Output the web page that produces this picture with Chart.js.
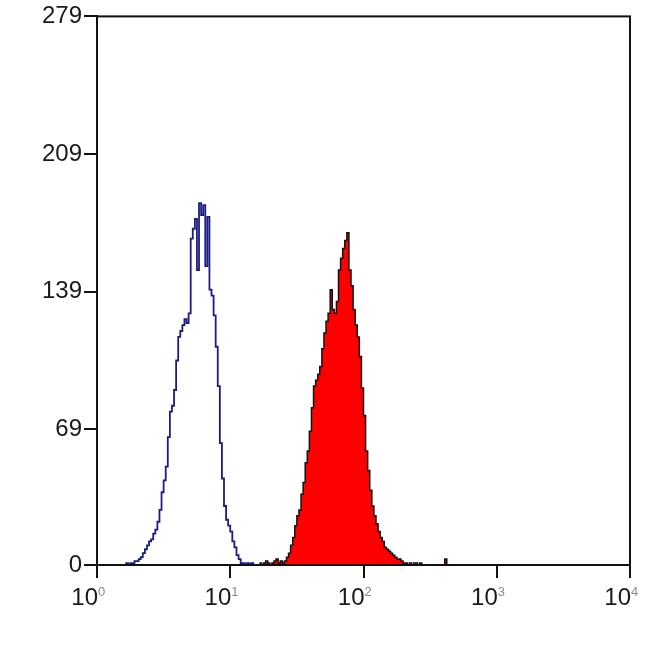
<!DOCTYPE html>
<html>
<head>
<meta charset="utf-8">
<script src="https://cdn.jsdelivr.net/npm/chart.js@4.4.1/dist/chart.umd.min.js"></script>
<style>
  html, body { margin: 0; padding: 0; background: #ffffff; }
  canvas { display: block; }
</style>
</head>
<body>
<canvas id="c" width="650" height="650"></canvas>
<script>
// ---- data (flow cytometry histogram, 64 channels per decade on a 4-decade log scale) ----
const channelsPerDecade = 64;

// isotype control (blue outline)
const blueStartChannel = 13;
const blueCounts = [
  0, 1, 0, 1, 1, 2, 2, 3, 4, 6,
  8, 10, 12, 13, 16, 18, 22, 28, 37, 43,
  50, 65, 78, 81, 89, 104, 116, 119, 122, 125,
  123, 128, 166, 171, 176, 150, 184, 178, 183, 152,
  177, 140, 137, 127, 111, 91, 62, 44, 30, 23,
  20, 17, 12, 9, 5, 3, 1, 1, 0, 1,
  0, 1, 0
];

// stained sample (red filled)
const redStartChannel = 78;
const redCounts = [
  1, 0, 1, 2, 1, 0, 1, 2, 3, 1,
  2, 1, 2, 4, 6, 10, 14, 20, 25, 28,
  36, 42, 52, 58, 68, 80, 91, 94, 97, 101,
  110, 118, 124, 128, 140, 130, 128, 134, 150, 156,
  161, 165, 169, 150, 142, 130, 122, 116, 106, 90,
  76, 58, 48, 38, 30, 25, 21, 17, 14, 12,
  9, 8, 7, 6, 5, 4, 3, 3, 2, 1,
  1, 0, 1, 0, 1, 1, 0, 1, 0, 0,
  0, 0, 0, 0, 0, 0, 0, 0, 0, 3,
  0
];

// axes
const xTickValues = [1, 10, 100, 1000, 10000];
const xTickBase = '10';
const xTickExponents = ['0', '1', '2', '3', '4'];
const yTickValues = [0, 69, 139, 209, 279];
const yMax = 279;

// ---- build step points from channels ----
function toPoints(start, counts) {
  const pts = counts.map((c, i) => ({ x: Math.pow(10, (start + i) / channelsPerDecade), y: c }));
  pts.push({ x: Math.pow(10, (start + counts.length) / channelsPerDecade), y: 0 });
  return pts;
}

const FONT = "'Liberation Sans', Arial, sans-serif";

const frameAndLabels = {
  id: 'frameAndLabels',
  afterDraw(chart) {
    const { ctx, chartArea } = chart;
    const xs = chart.scales.x;
    ctx.save();
    // frame
    ctx.strokeStyle = '#111';
    ctx.lineWidth = 2;
    ctx.strokeRect(chartArea.left, chartArea.top, chartArea.right - chartArea.left, chartArea.bottom - chartArea.top);
    // x tick labels with superscript exponents
    xTickValues.forEach((v, i) => {
      const px = xs.getPixelForValue(v);
      ctx.font = '24px ' + FONT;
      ctx.fillStyle = '#1a1a1a';
      ctx.textAlign = 'right';
      ctx.textBaseline = 'alphabetic';
      ctx.fillText(xTickBase, px + 1, chartArea.bottom + 40);
      ctx.font = '13px ' + FONT;
      ctx.fillStyle = '#8a8a8a';
      ctx.textAlign = 'left';
      ctx.fillText(xTickExponents[i], px + 1, chartArea.bottom + 31);
    });
    ctx.restore();
  }
};

new Chart(document.getElementById('c'), {
  type: 'line',
  data: {
    datasets: [
      {
        label: 'Stained',
        data: toPoints(redStartChannel, redCounts),
        stepped: 'before',
        fill: 'origin',
        backgroundColor: '#ff0000',
        borderColor: '#111111',
        borderWidth: 1.5,
        pointRadius: 0,
        tension: 0
      },
      {
        label: 'Isotype control',
        data: toPoints(blueStartChannel, blueCounts),
        stepped: 'before',
        fill: false,
        borderColor: '#1c1c80',
        borderWidth: 1.8,
        pointRadius: 0,
        tension: 0
      }
    ]
  },
  options: {
    responsive: false,
    animation: false,
    layout: { padding: { left: 0, top: 15, right: 20, bottom: 0 } },
    plugins: { legend: { display: false }, tooltip: { enabled: false } },
    scales: {
      x: {
        type: 'logarithmic',
        min: 1,
        max: 10000,
        afterBuildTicks(scale) { scale.ticks = xTickValues.map(v => ({ value: v, major: true })); },
        afterFit(scale) { scale.height = 85; },
        ticks: { display: true, callback: () => '' , font: { size: 12 } },
        grid: { display: true, drawOnChartArea: false, drawTicks: true, tickLength: 13, color: '#111', lineWidth: 2 },
        border: { display: true, color: '#111', width: 2 }
      },
      y: {
        type: 'linear',
        min: 0,
        max: yMax,
        afterBuildTicks(scale) { scale.ticks = yTickValues.map(v => ({ value: v })); },
        afterFit(scale) { scale.width = 97; },
        ticks: { color: '#1a1a1a', padding: 2, font: { family: FONT, size: 24 } },
        grid: { display: true, drawOnChartArea: false, drawTicks: true, tickLength: 13, color: '#111', lineWidth: 2 },
        border: { display: true, color: '#111', width: 2 }
      }
    }
  },
  plugins: [frameAndLabels]
});
</script>
</body>
</html>
